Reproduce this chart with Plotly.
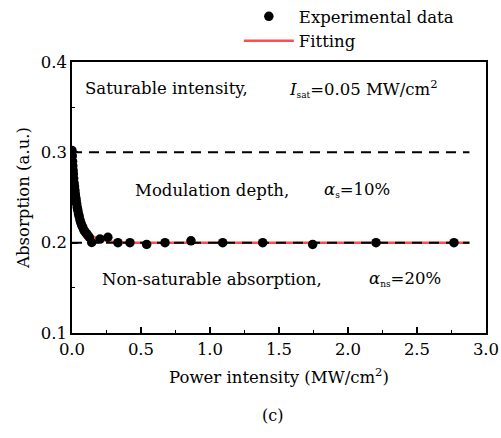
import plotly.graph_objects as go

exp_x = [0.0, 0.002, 0.004, 0.006, 0.008, 0.010, 0.012, 0.015, 0.018, 0.021, 0.024,
         0.027, 0.030, 0.034, 0.038, 0.042, 0.047, 0.052, 0.058, 0.064, 0.071, 0.078,
         0.086, 0.095, 0.105, 0.115, 0.125,
         0.143, 0.203, 0.26, 0.333, 0.42, 0.541, 0.674, 0.862, 1.092, 1.382, 1.744, 2.203, 2.768]
exp_y = [0.302, 0.296, 0.290, 0.285, 0.280, 0.276, 0.271, 0.266, 0.262, 0.258, 0.254,
         0.250, 0.247, 0.243, 0.239, 0.236, 0.232, 0.229, 0.225, 0.222, 0.219, 0.217,
         0.214, 0.212, 0.210, 0.208, 0.206,
         0.2003, 0.204, 0.206, 0.200, 0.200, 0.198, 0.200, 0.202, 0.200, 0.200, 0.198, 0.200, 0.200]

# Fitting curve
fit_x = [0.0, 0.005, 0.01, 0.02, 0.03, 0.046, 0.07, 0.1, 0.14, 0.18, 0.25, 0.35, 0.5, 1.0, 2.0, 2.88]
fit_y = [0.300, 0.285, 0.275, 0.262, 0.252, 0.239, 0.222, 0.213, 0.208, 0.205, 0.202, 0.2005, 0.200, 0.200, 0.200, 0.200]

# Reference levels
top_level_x = [0.0, 2.88]
top_level_y = [0.3, 0.3]
base_level_x = [0.0, 2.88]
base_level_y = [0.2, 0.2]

FONT = "DejaVu Serif"
FS = 16.5

fig = go.Figure()
fig.add_trace(go.Scatter(x=fit_x, y=fit_y, mode="lines", name="Fitting",
                         line=dict(color="#ff4d4d", width=2.5, shape="spline")))
fig.add_trace(go.Scatter(x=top_level_x, y=top_level_y, mode="lines", showlegend=False,
                         line=dict(color="black", width=2, dash="10px,7px")))
fig.add_trace(go.Scatter(x=base_level_x, y=base_level_y, mode="lines", showlegend=False,
                         line=dict(color="black", width=2, dash="10px,7px")))
fig.add_trace(go.Scatter(x=exp_x, y=exp_y, mode="markers", name="Experimental data",
                         marker=dict(color="black", size=9.5)))

fig.update_layout(
    width=501, height=438,
    margin=dict(l=72, r=15, t=62, b=105, autoexpand=False),
    paper_bgcolor="white", plot_bgcolor="white",
    font=dict(family=FONT, size=FS, color="black"),
    legend=dict(x=0.403, y=1.232, xanchor="left", yanchor="top",
                traceorder="reversed", itemwidth=50,
                bgcolor="rgba(0,0,0,0)", font=dict(family=FONT, size=FS)),
    xaxis=dict(range=[0, 3.0], dtick=0.5, tickformat=".1f",
               showline=True, linecolor="black", linewidth=1.6, mirror=True,
               ticks="inside", ticklen=6, tickwidth=1.5, tickcolor="black",
               minor=dict(dtick=0.25, ticks="inside", ticklen=3, tickwidth=1.2, tickcolor="black"),
               showgrid=False, zeroline=False, tickfont=dict(family=FONT, size=16.5),
               title=dict(text="Power intensity (MW/cm<sup>2</sup>)", standoff=14,
                          font=dict(family=FONT, size=FS))),
    yaxis=dict(range=[0.1, 0.4], dtick=0.1, tickformat=".1f",
               showline=True, linecolor="black", linewidth=1.6, mirror=True,
               ticks="inside", ticklen=6, tickwidth=1.5, tickcolor="black",
               minor=dict(dtick=0.05, ticks="inside", ticklen=3, tickwidth=1.2, tickcolor="black"),
               showgrid=False, zeroline=False, tickfont=dict(family=FONT, size=16.5),
               title=dict(text="Absorption (a.u.)", standoff=7, font=dict(family=FONT, size=FS))),
)

ann = [
    dict(x=83, y=88, text="Saturable intensity,"),
    dict(x=287, y=88, text="<i>I</i><sub><span style='font-size:9px'>sat</span></sub>=0.05 MW/cm<sup>2</sup>"),
    dict(x=133, y=190, text="Modulation depth,"),
    dict(x=322, y=190, text="<i>α</i><sub><span style='font-size:9px'>s</span></sub>=10%"),
    dict(x=100, y=279, text="Non-saturable absorption,"),
    dict(x=367, y=279, text="<i>α</i><sub><span style='font-size:9px'>ns</span></sub>=20%"),
]
for a in ann:
    fig.add_annotation(x=(a["x"] - 72) / 414, y=(333 - a["y"]) / 271, xref="paper", yref="paper",
                       xanchor="left", yanchor="middle", text=a["text"], showarrow=False,
                       font=dict(family=FONT, size=FS, color="black"))

fig.add_annotation(x=(272 - 72) / 414, y=(333 - 415) / 271, xref="paper", yref="paper",
                   xanchor="center", yanchor="middle", text="(c)", showarrow=False,
                   font=dict(family=FONT, size=16, color="black"))

fig.write_html("out.html")
